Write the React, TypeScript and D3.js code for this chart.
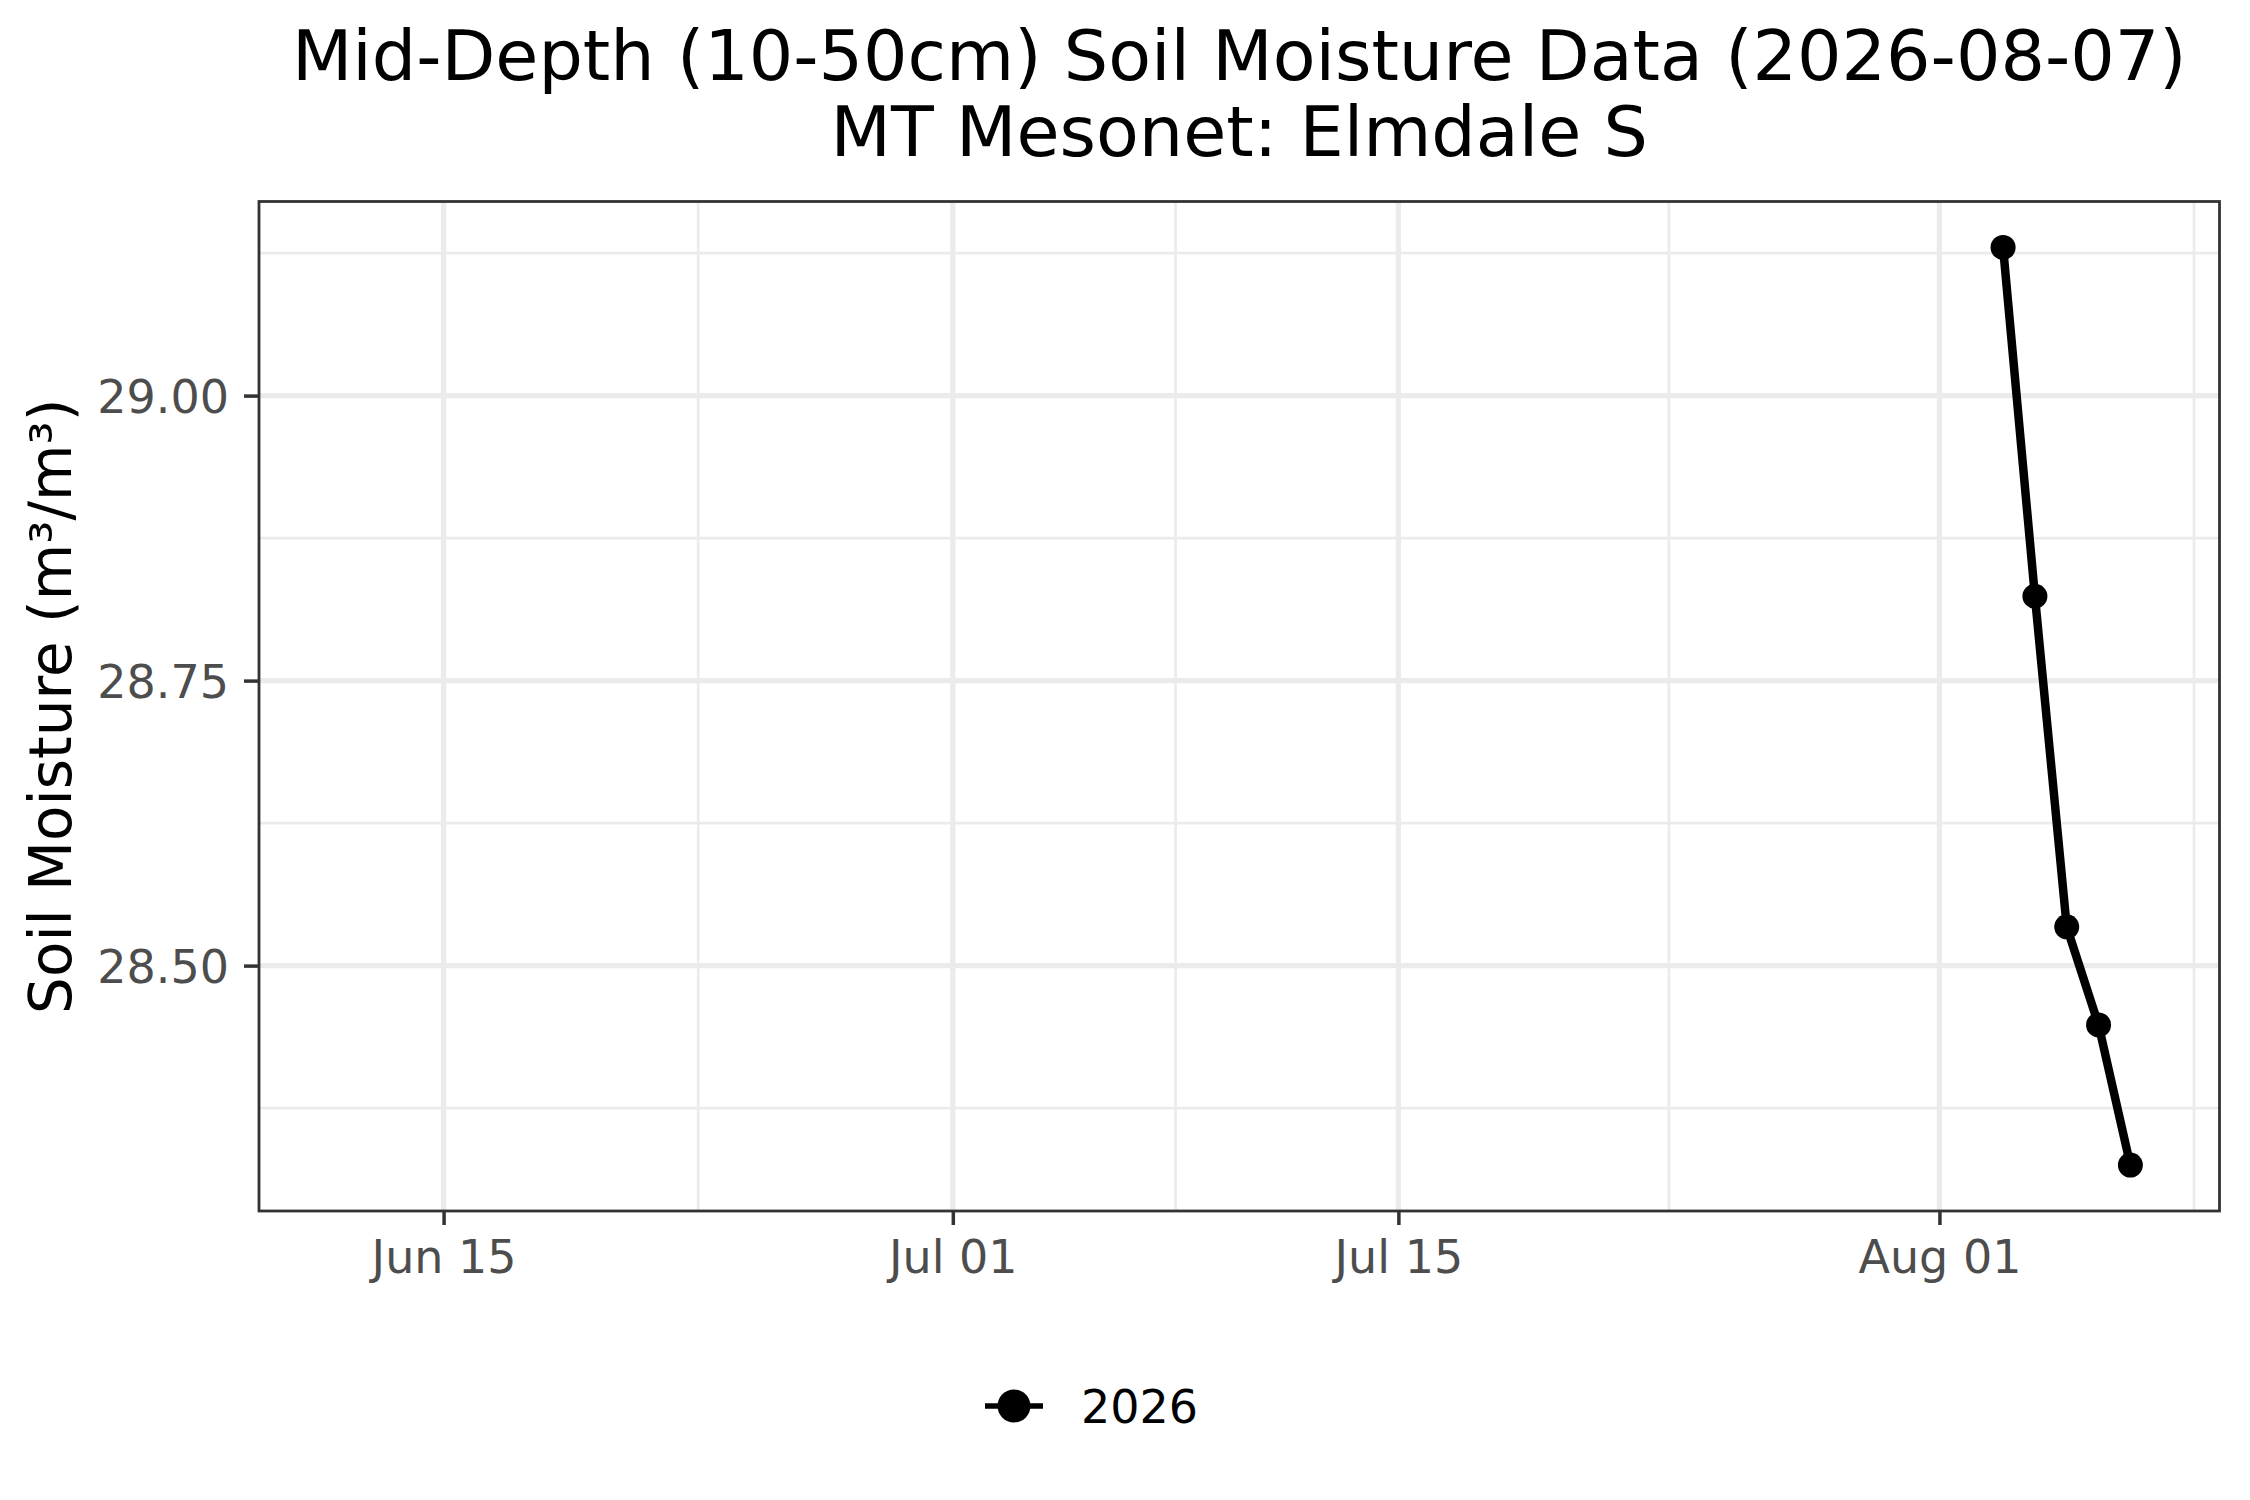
import { useRef, useEffect } from 'react';
import * as d3 from 'd3';

// series (2026)
const dates = ['2026-08-03', '2026-08-04', '2026-08-05', '2026-08-06', '2026-08-07'];
const moisture = [29.13, 28.824, 28.534, 28.448, 28.325];
const seriesName = '2026';

// axis limits and breaks
const xLimits = ['2026-06-12', '2026-08-07'];
const xBreaks = ['2026-06-15', '2026-07-01', '2026-07-15', '2026-08-01'];
const xMinorBreaks = ['2026-06-23', '2026-07-08', '2026-07-23T12:00', '2026-08-09'];
const yBreaks = [28.5, 28.75, 29.0];
const yMinorBreaks = [28.375, 28.625, 28.875, 29.125];

const titleLines = ['Mid-Depth (10-50cm) Soil Moisture Data (2026-08-07)', 'MT Mesonet: Elmdale S'];
const yTitle = 'Soil Moisture (m³/m³)';

const W = 2250;
const H = 1500;
const FONT = 'DejaVu Sans, sans-serif';

const parse = (s: string) => new Date(s + (s.includes('T') ? ':00Z' : 'T00:00:00Z'));

const App = () => {
  const svgRef = useRef<SVGSVGElement>(null);

  useEffect(() => {
    const svg = d3.select(svgRef.current).attr('width', W).attr('height', H);
    svg.selectAll('*').remove();

    const panel = { left: 259, right: 2219.5, top: 201.5, bottom: 1211 };

    // ggplot-style 5% expansion
    const [x0, x1] = xLimits.map(parse);
    const xPad = (x1.getTime() - x0.getTime()) * 0.05;
    const x = d3.scaleUtc()
      .domain([new Date(x0.getTime() - xPad), new Date(x1.getTime() + xPad)])
      .range([panel.left, panel.right]);

    const yMin = d3.min(moisture) as number;
    const yMax = d3.max(moisture) as number;
    const yPad = (yMax - yMin) * 0.05;
    const y = d3.scaleLinear()
      .domain([yMin - yPad, yMax + yPad])
      .range([panel.bottom, panel.top]);

    svg.append('rect')
      .attr('width', W).attr('height', H).attr('fill', '#ffffff');

    // grid
    const grid = svg.append('g');
    grid.selectAll('.ymin').data(yMinorBreaks).enter().append('line')
      .attr('x1', panel.left).attr('x2', panel.right)
      .attr('y1', d => y(d)).attr('y2', d => y(d))
      .attr('stroke', '#ebebeb').attr('stroke-width', 2.7);
    grid.selectAll('.xmin').data(xMinorBreaks.map(parse)).enter().append('line')
      .attr('y1', panel.top).attr('y2', panel.bottom)
      .attr('x1', d => x(d)).attr('x2', d => x(d))
      .attr('stroke', '#ebebeb').attr('stroke-width', 2.7);
    grid.selectAll('.ymaj').data(yBreaks).enter().append('line')
      .attr('x1', panel.left).attr('x2', panel.right)
      .attr('y1', d => y(d)).attr('y2', d => y(d))
      .attr('stroke', '#ebebeb').attr('stroke-width', 5.3);
    grid.selectAll('.xmaj').data(xBreaks.map(parse)).enter().append('line')
      .attr('y1', panel.top).attr('y2', panel.bottom)
      .attr('x1', d => x(d)).attr('x2', d => x(d))
      .attr('stroke', '#ebebeb').attr('stroke-width', 5.3);

    // series
    const pts = dates.map((d, i) => ({ date: parse(d), value: moisture[i] }));
    const line = d3.line<{ date: Date; value: number }>()
      .x(d => x(d.date))
      .y(d => y(d.value));
    svg.append('path')
      .datum(pts)
      .attr('d', line)
      .attr('fill', 'none')
      .attr('stroke', '#000000')
      .attr('stroke-width', 8.5)
      .attr('stroke-linejoin', 'round');
    svg.selectAll('.pt').data(pts).enter().append('circle')
      .attr('cx', d => x(d.date))
      .attr('cy', d => y(d.value))
      .attr('r', 12.5)
      .attr('fill', '#000000');

    // panel border
    svg.append('rect')
      .attr('x', panel.left).attr('y', panel.top)
      .attr('width', panel.right - panel.left)
      .attr('height', panel.bottom - panel.top)
      .attr('fill', 'none')
      .attr('stroke', '#333333')
      .attr('stroke-width', 2.8);

    // x axis
    const xAxis = svg.append('g')
      .attr('transform', `translate(0, ${panel.bottom})`)
      .call(d3.axisBottom(x)
        .tickValues(xBreaks.map(parse))
        .tickFormat(d => d3.utcFormat('%b %d')(d as Date))
        .tickSizeInner(14)
        .tickSizeOuter(0)
        .tickPadding(10));
    xAxis.select('.domain').remove();
    xAxis.selectAll('.tick line').attr('stroke', '#333333').attr('stroke-width', 3.5);
    xAxis.selectAll('.tick text')
      .attr('fill', '#4d4d4d')
      .attr('font-family', FONT)
      .attr('font-size', 46)
      .attr('dy', null)
      .attr('y', 61.5);

    // y axis
    const yAxis = svg.append('g')
      .attr('transform', `translate(${panel.left}, 0)`)
      .call(d3.axisLeft(y)
        .tickValues(yBreaks)
        .tickFormat(d3.format('.2f'))
        .tickSizeInner(15)
        .tickSizeOuter(0)
        .tickPadding(15));
    yAxis.select('.domain').remove();
    yAxis.selectAll('.tick line').attr('stroke', '#333333').attr('stroke-width', 3.5);
    yAxis.selectAll('.tick text')
      .attr('fill', '#4d4d4d')
      .attr('font-family', FONT)
      .attr('font-size', 46)
      .attr('dy', '0.36em');

    // y title
    svg.append('text')
      .attr('transform', `translate(71, ${(panel.top + panel.bottom) / 2}) rotate(-90)`)
      .attr('text-anchor', 'middle')
      .attr('font-family', FONT)
      .attr('font-size', 58)
      .attr('fill', '#000000')
      .text(yTitle);

    // title
    const cx = (panel.left + panel.right) / 2;
    svg.selectAll('.title').data(titleLines).enter().append('text')
      .attr('x', cx)
      .attr('y', (_, i) => 80 + i * 76)
      .attr('text-anchor', 'middle')
      .attr('font-family', FONT)
      .attr('font-size', 70)
      .attr('fill', '#000000')
      .text(d => d);

    // legend
    const lg = svg.append('g');
    lg.append('line')
      .attr('x1', 985).attr('x2', 1043)
      .attr('y1', 1406).attr('y2', 1406)
      .attr('stroke', '#000000').attr('stroke-width', 5.7);
    lg.append('circle')
      .attr('cx', 1014).attr('cy', 1406).attr('r', 16.5)
      .attr('fill', '#000000');
    lg.append('text')
      .attr('x', 1081).attr('y', 1423)
      .attr('font-family', FONT)
      .attr('font-size', 46)
      .attr('fill', '#000000')
      .text(seriesName);
  }, []);

  return <svg ref={svgRef} style={{ position: 'absolute', left: 0, top: 0, display: 'block' }}></svg>;
};

export default App;
